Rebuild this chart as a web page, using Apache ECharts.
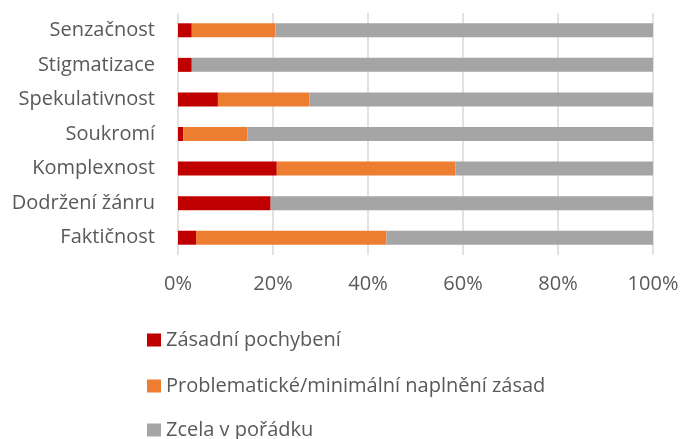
<!DOCTYPE html>
<html>
<head>
<meta charset="utf-8">
<script src="https://cdn.jsdelivr.net/npm/echarts@6/dist/echarts.min.js"></script>
<style>
  html, body { margin: 0; padding: 0; background: #fff; }
  #chart { width: 683px; height: 439px; }
</style>
</head>
<body>
<div id="chart"></div>
<script>
// categories listed bottom to top (category axis on y starts at bottom)
const categories = ["Faktičnost", "Dodržení žánru", "Komplexnost", "Soukromí", "Spekulativnost", "Stigmatizace", "Senzačnost"];
const seriesNames = ["Zásadní pochybení", "Problematické/minimální naplnění zásad", "Zcela v pořádku"];
const zasadni = [3.8, 19.5, 20.8, 1.1, 8.4, 2.9, 2.9];
const problematicke = [40.1, 0, 37.6, 13.5, 19.3, 0, 17.6];
const vPoradku = [56.1, 80.5, 41.6, 85.4, 72.3, 97.1, 79.5];
const xTicks = [0, 20, 40, 60, 80, 100];

const colors = ["#C00000", "#ED7D31", "#A5A5A5"];
const font = "'Open Sans', sans-serif";
const textColor = "#595959";

const chart = echarts.init(document.getElementById("chart"));

const values = [zasadni, problematicke, vPoradku];
const legendTops = [330, 376, 420];

chart.setOption({
  animation: false,
  textStyle: { fontFamily: font },
  grid: { left: 178, right: 30, top: 13, height: 242, containLabel: false },
  xAxis: {
    type: "value",
    min: xTicks[0],
    max: xTicks[xTicks.length - 1],
    interval: 20,
    axisLine: { show: false },
    axisTick: { show: false },
    splitLine: { lineStyle: { color: "#d9d9d9", width: 1.5 } },
    axisLabel: {
      color: textColor,
      fontSize: 20,
      margin: 19,
      formatter: (v) => v + "%",
    },
  },
  yAxis: {
    type: "category",
    data: categories,
    axisLine: { show: false },
    axisTick: { show: false },
    axisLabel: { color: textColor, fontSize: 20, margin: 23 },
  },
  // one legend per item so they stack like the original
  legend: seriesNames.map((name, i) => ({
    left: 147,
    top: legendTops[i],
    padding: 0,
    itemWidth: 14,
    itemHeight: 13,
    itemGap: 0,
    icon: "rect",
    data: [name],
    textStyle: { color: textColor, fontSize: 20, fontFamily: font },
  })),
  series: seriesNames.map((name, i) => ({
    name: name,
    type: "bar",
    stack: "total",
    barWidth: 14,
    data: values[i],
    itemStyle: { color: colors[i] },
  })),
});
</script>
</body>
</html>
